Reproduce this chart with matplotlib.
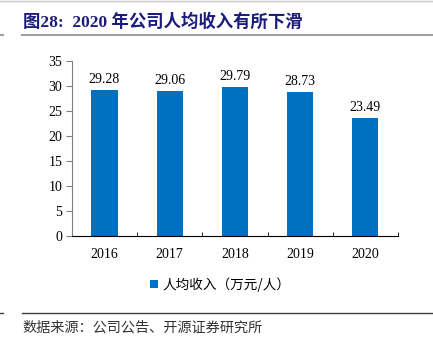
import matplotlib
matplotlib.use("Agg")
import matplotlib.pyplot as plt
from matplotlib.lines import Line2D

plt.rcParams['font.family'] = ['Liberation Serif', 'Noto Sans CJK SC']

# data
years = ['2016', '2017', '2018', '2019', '2020']
income = [29.28, 29.06, 29.79, 28.73, 23.49]
yticks = [0, 5, 10, 15, 20, 25, 30, 35]

bar_color = '#0070C0'
title_color = '#1C1C7C'

fig = plt.figure(figsize=(4.33, 3.44), dpi=100)

# title + rules
fig.add_artist(Line2D([0, 1], [0.997, 0.997], color='#c8c8c8', lw=1))
fig.text(0.053, 0.936, '图28:  2020 年公司人均收入有所下滑', fontsize=12.5,
         fontweight='bold', color=title_color, va='center',
         family=['Liberation Serif', 'Noto Sans CJK SC'])
fig.add_artist(Line2D([0.051, 1], [0.897, 0.897], color='#a0a0a0', lw=1.5))
fig.add_artist(Line2D([0, 0.008], [0.897, 0.897], color='#a0a0a0', lw=1.5))
fig.add_artist(Line2D([0.051, 1], [0.09, 0.09], color='#404040', lw=1))
fig.add_artist(Line2D([0, 0.008], [0.09, 0.09], color='#404040', lw=1))
fig.text(0.053, 0.048, '数据来源：公司公告、开源证券研究所', fontsize=10.2,
         color='#333333', va='center', family=['Noto Sans CJK SC'])

ax = fig.add_axes([0.166, 0.314, 0.753, 0.509])
x = range(len(years))
bars = ax.bar(x, income, width=0.4, color=bar_color, label='人均收入（万元/人）')
for xi, v in zip(x, income):
    ax.text(xi, v + 0.8, f'{v:.2f}', ha='center', va='bottom', fontsize=10)

ax.set_xlim(-0.5, len(years) - 0.5)
ax.set_ylim(0, 35)
ax.set_yticks(yticks)
ax.set_yticklabels([str(t) for t in yticks], fontsize=10)
ax.set_xticks(x)
ax.set_xticklabels(years, fontsize=10)
ax.tick_params(axis='x', length=0, pad=9)
ax.set_xticks([i - 0.5 for i in range(len(years) + 1)], minor=True)
ax.tick_params(axis='x', which='minor', direction='in', length=3, color='black')
ax.tick_params(axis='y', direction='out', length=4, color='#808080', pad=3)

for s in ['top', 'right']:
    ax.spines[s].set_visible(False)
ax.spines['left'].set_color('#808080')
ax.spines['bottom'].set_color('black')

leg = ax.legend(loc='upper center', bbox_to_anchor=(0.455, -0.165), frameon=False,
                handlelength=0.6, handleheight=0.6, handletextpad=0.3,
                prop={'family': ['Noto Sans CJK SC'], 'size': 9.8})

fig.savefig('out.png', dpi=100)
